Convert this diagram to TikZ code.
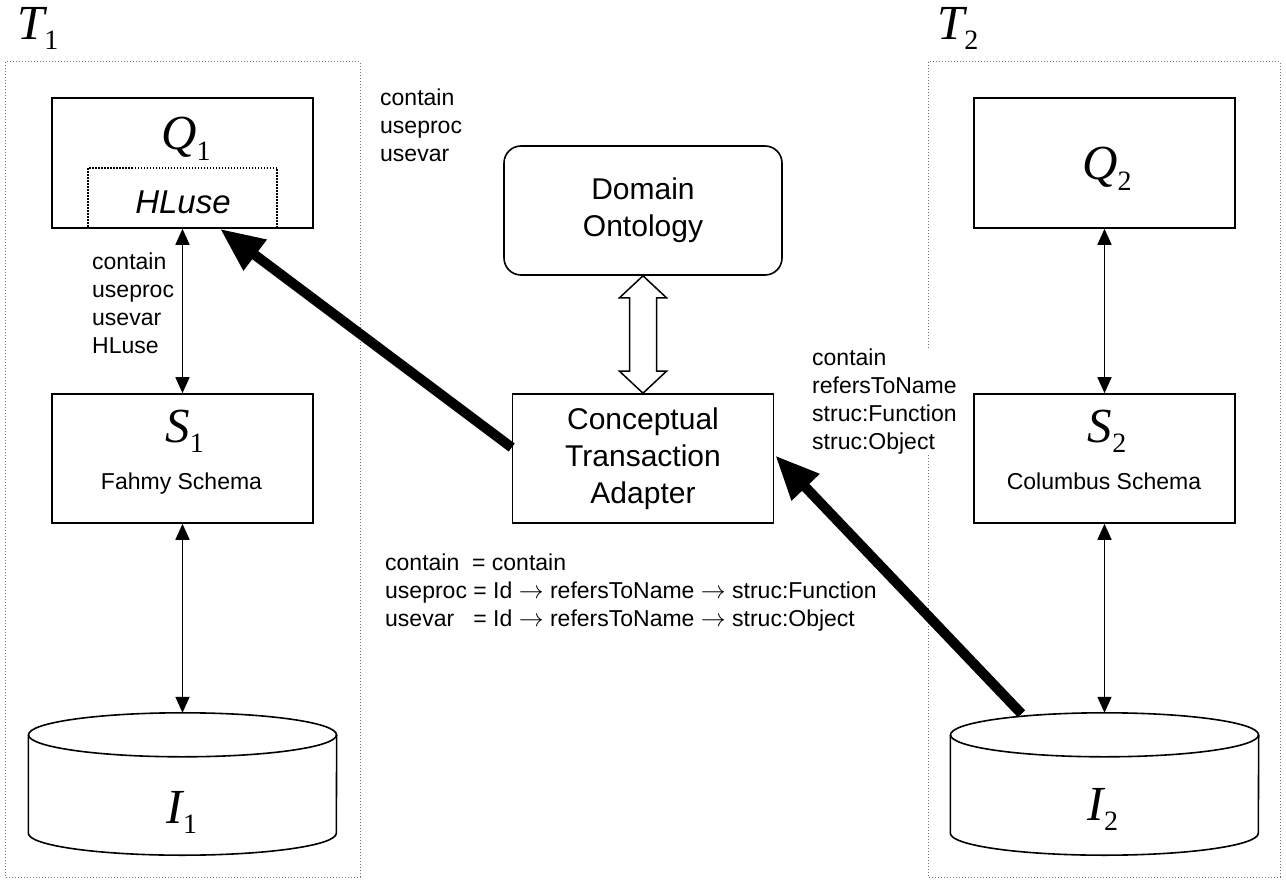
\documentclass[tikz,border=0pt]{standalone}
\usepackage{fontspec}
\setmainfont{Liberation Sans}
\newfontfamily\tnr{Liberation Serif}
\usetikzlibrary{arrows.meta,calc}

% italic letter with an upright, lowered index
\newcommand\symb[2]{{\tnr\fontsize{49}{49}\selectfont\itshape #1}{\tnr\fontsize{28}{28}\selectfont\raisebox{-10pt}{#2}}}

% database drum drawn inside an invisible node
\newcommand\drum[1]{%
  \draw[outline] ($(#1.north)+(0,22)$) ellipse[x radius=154pt,y radius=22pt];
  \draw[outline] ($(#1.north west)+(0,22)$) -- ($(#1.south west)+(0,-22)$)
    arc[start angle=180,end angle=360,x radius=154pt,y radius=22pt]
    -- ($(#1.north east)+(0,22)$);
}

\begin{document}
\begin{tikzpicture}[x=1pt,y=-1pt,
  outline/.style={line width=1.6pt},
  box/.style={draw,line width=1.6pt,minimum width=261pt,minimum height=130pt,inner sep=0pt,
              font=\fontsize{30}{37}\selectfont,align=center},
  area/.style={draw=black!55,line width=1pt,dash pattern=on 1pt off 2pt},
  hlbox/.style={draw,line width=1.5pt,dash pattern=on 1.5pt off 1.5pt,minimum width=189pt,minimum height=60pt,inner sep=0pt},
  lbl/.style={font=\fontsize{23}{28}\selectfont,align=left,inner sep=0pt,anchor=north west},
  sub/.style={font=\fontsize{23}{28}\selectfont,inner sep=0pt,anchor=base},
  sym/.style={inner sep=0pt,anchor=base},
  drumbox/.style={inner sep=0pt,minimum width=308pt,minimum height=142pt},
  link/.style={{Triangle[length=16pt,width=14pt]}-{Triangle[length=16pt,width=14pt]},line width=1.6pt},
  bigarrow/.style={-{Triangle[length=44pt,width=36pt]},line width=10pt},
  hollow/.style={line width=1.5pt,line join=miter},
]
\useasboundingbox (0,0) rectangle (1286,880);

% the two transaction areas
\draw[area] (5,62) rectangle (360,877);
\draw[area] (928,62) rectangle (1280,877);
\node[sym,anchor=base west] (t1) at (17,40) {\symb{T}{1}};
\node[sym,anchor=base west] (t2) at (937,40) {\symb{T}{2}};

% left column
\node[box] (q1) at (182.5,163) {};
\node[hlbox] (hl) at (182.5,198) {};
\node[sym] (q1lab) at (186,150) {\symb{Q}{1}};
\node[sym,font=\fontsize{33}{33}\selectfont\itshape] (hltext) at (183,213) {HLuse};

\node[box,minimum height=129pt] (s1) at (182.5,458.5) {};
\node[sym] (s1lab) at (184.5,442) {\symb{S}{1}};
\node[sub] (s1name) at (181.5,489) {Fahmy Schema};

\node[drumbox] (i1) at (182.5,784) {};
\drum{i1}
\node[sym] (i1lab) at (182,823) {\symb{I}{1}};

% right column
\node[box] (q2) at (1104.5,163) {};
\node[sym] (q2lab) at (1107,180) {\symb{Q}{2}};

\node[box,minimum height=129pt] (s2) at (1104.5,458.5) {};
\node[sym] (s2lab) at (1107,442) {\symb{S}{2}};
\node[sub] (s2name) at (1104,489) {Columbus Schema};

\node[drumbox] (i2) at (1104.5,784) {};
\drum{i2}
\node[sym] (i2lab) at (1103,820) {\symb{I}{2}};

% middle column
\node[box,rounded corners=17pt,minimum width=278pt,minimum height=129pt] (do) at (643,210.5) {Domain\\Ontology};
\node[box,minimum height=129pt] (cta) at (643,458.5) {Conceptual\\Transaction\\Adapter};

% vertical links
\draw[link] (q1.south) -- (s1.north);
\draw[link] (s1.south) -- (i1.north);
\draw[link] (q2.south) -- (s2.north);
\draw[link] (s2.south) -- (i2.north);

% hollow two-way arrow between ontology and adapter
\draw[hollow] (do.south) -- ++(23.5,22) -- ++(-10,0) -- ($(cta.north)+(13.5,-22)$) -- ++(10,0)
  -- (cta.north) -- ++(-23.5,-22) -- ++(10,0) -- ($(do.south)+(-13.5,22)$) -- ++(-10,0) -- cycle;

% heavy arrows
\coordinate (ctatail) at ($(cta.west)+(0,-11)$);
\coordinate (q1tip) at ($(q1.south)+(37.5,0)$);
\coordinate (i2tail) at ($(i2.north)+(-83,1)$);
\coordinate (ctatip) at ($(cta.east)+(1,-3)$);
\draw[bigarrow] (ctatail) -- (q1tip);
\draw[bigarrow] (i2tail) -- (ctatip);

% mapping labels
\node[lbl] (lleft) at (92,252.5) {contain\\useproc\\usevar\\HLuse};
\node[lbl] (lmid) at (380,88.5) {contain\\useproc\\usevar};
\node[lbl,fill=white] (lright) at (812,348.5) {contain\\refersToName\\struc:Function\\struc:Object};
\node[lbl] (lmap) at (385,554) {contain\ \ = contain\\useproc = Id $\rightarrow$ refersToName $\rightarrow$ struc:Function\\usevar\ \ \ = Id $\rightarrow$ refersToName $\rightarrow$ struc:Object};
\end{tikzpicture}
\end{document}
